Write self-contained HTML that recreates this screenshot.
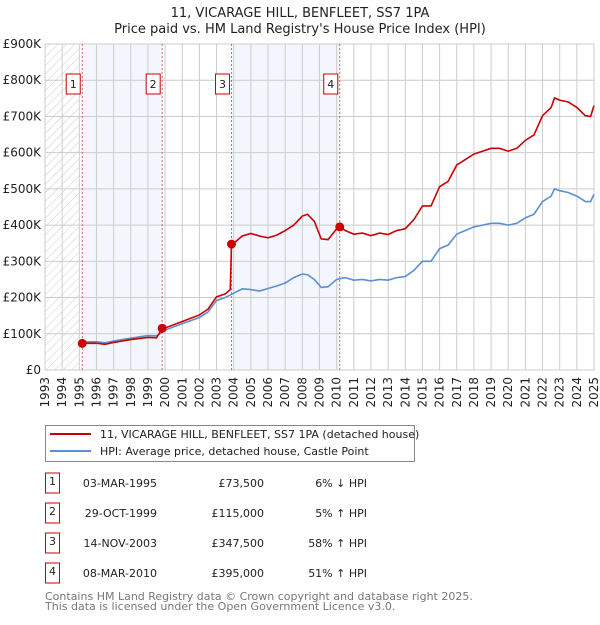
<!DOCTYPE html>
<html><head><meta charset="utf-8"><style>
body{margin:0;background:#fff;font-family:"Liberation Sans","DejaVu Sans",sans-serif;}
svg text{font-family:"DejaVu Sans","Liberation Sans",sans-serif;}
</style></head><body>
<svg id="c" width="600" height="620" viewBox="0 0 600 620" xmlns="http://www.w3.org/2000/svg">
<defs><pattern id="hatch" width="6" height="6" patternUnits="userSpaceOnUse" patternTransform="rotate(45)"><line x1="0" y1="0" x2="0" y2="6" stroke="#ccc" stroke-width="1"/></pattern></defs>
<text x="300" y="17" text-anchor="middle" font-size="13" fill="#222">11, VICARAGE HILL, BENFLEET, SS7 1PA</text>
<text x="300" y="33" text-anchor="middle" font-size="13" fill="#222">Price paid vs. HM Land Registry's House Price Index (HPI)</text>
<g id="plot"></g>
<g>
<rect x="45.5" y="425.5" width="369" height="36" fill="#fff" stroke="#888"/>
<line x1="50" y1="434" x2="91" y2="434" stroke="#cc0000" stroke-width="2"/>
<text x="100" y="438" font-size="11" fill="#222">11, VICARAGE HILL, BENFLEET, SS7 1PA (detached house)</text>
<line x1="50" y1="451" x2="91" y2="451" stroke="#5b8fd0" stroke-width="2"/>
<text x="100" y="455" font-size="11" fill="#222">HPI: Average price, detached house, Castle Point</text>
</g>
<g id="table" font-size="11" fill="#222"></g>
<text x="45" y="600" font-size="11" fill="#777">Contains HM Land Registry data © Crown copyright and database right 2025.</text>
<text x="45" y="610" font-size="11" fill="#777">This data is licensed under the Open Government Licence v3.0.</text>
</svg>
<script>
const hpiYears=[1995,1996,1996.5,1997,1998,1999,1999.5,2000,2001,2002,2002.5,2003,2003.5,2004,2004.5,2005,2005.5,2006,2006.5,2007,2007.5,2008,2008.3,2008.7,2009.1,2009.5,2010,2010.5,2011,2011.5,2012,2012.5,2013,2013.5,2014,2014.5,2015,2015.5,2016,2016.5,2017,2017.5,2018,2018.5,2019,2019.5,2020,2020.5,2021,2021.5,2022,2022.5,2022.7,2023,2023.5,2024,2024.5,2024.8,2025];
const hpiValues=[78,78,75,80,88,95,94,110,128,145,160,192,200,212,224,222,218,225,232,240,255,265,263,250,228,230,250,255,248,250,246,250,248,255,258,275,300,300,335,345,375,385,395,400,405,405,400,405,420,430,465,480,500,495,490,480,465,465,485];
const priceYears=[1995.17,1996,1996.5,1997,1998,1999,1999.5,1999.83,2000,2001,2002,2002.5,2003,2003.5,2003.8,2003.87,2004,2004.5,2005,2005.5,2006,2006.5,2007,2007.5,2008,2008.3,2008.7,2009.1,2009.5,2010,2010.18,2010.5,2011,2011.5,2012,2012.5,2013,2013.5,2014,2014.5,2015,2015.5,2016,2016.5,2017,2017.5,2018,2018.5,2019,2019.5,2020,2020.5,2021,2021.5,2022,2022.5,2022.7,2023,2023.5,2024,2024.5,2024.8,2025];
const priceValues=[73.5,74,71,76,84,90,89,115,116,134,152,168,202,210,222,347.5,350,370,377,370,365,372,385,400,425,430,410,362,360,390,395,385,375,378,371,378,374,385,390,415,453,453,506,521,566,581,596,604,612,612,604,612,634,649,702,725,751,745,740,725,702,700,730];
const saleYears=[1995.17,1999.83,2003.87,2010.18];
const saleValues=[73.5,115,347.5,395];
const saleDates=["03-MAR-1995","29-OCT-1999","14-NOV-2003","08-MAR-2010"];
const salePrices=["£73,500","£115,000","£347,500","£395,000"];
const saleHpi=["6% ↓ HPI","5% ↑ HPI","58% ↑ HPI","51% ↑ HPI"];
const yTicks=[0,100,200,300,400,500,600,700,800,900];
const yTickLabels=["£0","£100K","£200K","£300K","£400K","£500K","£600K","£700K","£800K","£900K"];

const X0=45,X1=594,Y0=370,Y1=44;
const x=y=>X0+(y-1993)/32*(X1-X0);
const yv=v=>Y0-v/900*(Y0-Y1);
const NS="http://www.w3.org/2000/svg";
const plot=document.getElementById('plot');
function mk(tag,attrs,parent){const e=document.createElementNS(NS,tag);for(const k in attrs)e.setAttribute(k,attrs[k]);(parent||plot).appendChild(e);return e;}
let e;
e=mk('rect',{x:X0,y:Y1,width:x(1995)-X0,height:Y0-Y1,fill:'url(#hatch)'});


const bands=[[saleYears[0],saleYears[1]],[saleYears[2],saleYears[3]]];
bands.forEach(b=>{e=mk('rect',{x:x(b[0]),y:Y1,width:x(b[1])-x(b[0]),height:Y0-Y1,fill:'#f3f6fd'});

});
for(let yr=1993;yr<=2025;yr++){e=mk('line',{x1:x(yr),x2:x(yr),y1:Y1,y2:Y0,stroke:'#ccc','stroke-width':1});


e=mk('text',{x:0,y:0,transform:`translate(${x(yr)+4},${Y0+7}) rotate(-90)`,'text-anchor':'end','font-size':12,fill:'#222'});
e.textContent=yr;

}
yTicks.forEach((t,i)=>{e=mk('line',{x1:X0,x2:X1,y1:yv(t),y2:yv(t),stroke:'#ccc','stroke-width':1});


e=mk('text',{x:X0-4,y:yv(t)+4,'text-anchor':'end','font-size':12,fill:'#222'});
e.textContent=yTickLabels[i];

});
e=mk('rect',{x:X0,y:Y1,width:X1-X0,height:Y0-Y1,fill:'none',stroke:'#ccc'});


saleYears.forEach((s,i)=>{e=mk('line',{x1:x(s),x2:x(s),y1:Y1,y2:Y0,stroke:'#e06060','stroke-dasharray':'2,2','stroke-width':1});


e=mk('rect',{x:x(s)-16,y:74,width:14,height:20,fill:'#fff',stroke:'#cc0000'});


e=mk('text',{x:x(s)-9,y:88,'text-anchor':'middle','font-size':11,fill:'#222'});
e.textContent=i+1;

});
e=mk('polyline',{points:hpiYears.map((v,i)=>x(v)+','+yv(hpiValues[i])).join(' '),fill:'none',stroke:'#5b8fd0','stroke-width':1.6});


e=mk('polyline',{points:priceYears.map((v,i)=>x(v)+','+yv(priceValues[i])).join(' '),fill:'none',stroke:'#cc0000','stroke-width':1.6});


saleYears.forEach((s,i)=>{e=mk('circle',{cx:x(s),cy:yv(saleValues[i]),r:4.5,fill:'#cc0000'});

});
const tbl=document.getElementById('table');
saleYears.forEach((s,i)=>{const cy=483+i*30;
e=mk('rect',{x:45.5,y:cy-10,width:14,height:20,fill:'#fff',stroke:'#cc0000'},tbl);


e=mk('text',{x:52.5,y:cy+2,'text-anchor':'middle'},tbl);e.textContent=i+1;


e=mk('text',{x:157,y:cy+4,'text-anchor':'end'},tbl);e.textContent=saleDates[i];


e=mk('text',{x:264,y:cy+4,'text-anchor':'end'},tbl);e.textContent=salePrices[i];


e=mk('text',{x:367,y:cy+4,'text-anchor':'end'},tbl);e.textContent=saleHpi[i];

});
</script>
</body></html>
